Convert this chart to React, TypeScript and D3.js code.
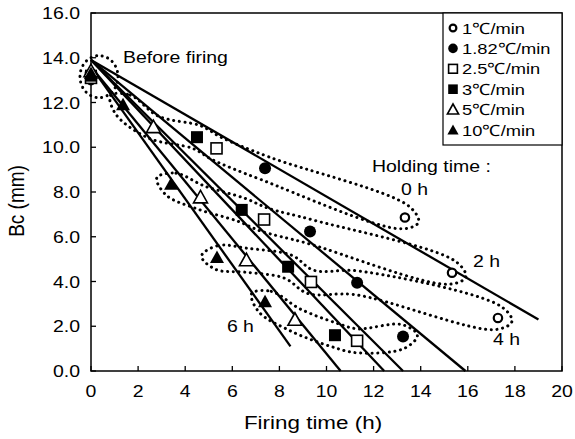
import React from 'react';
import * as d3 from 'd3';

// heating rates and their marker styles
const rateLabels = ['1℃/min', '1.82℃/min', '2.5℃/min', '3℃/min', '5℃/min', '10℃/min'];
const markerKinds = ['openCircle', 'circle', 'openSquare', 'square', 'openTriangle', 'triangle'];

// firing time (h) and Bc (mm); first point is "before firing", then holding 0, 2, 4, 6 h
const timeRate1 = [0, 13.33, 15.33, 17.28];
const bcRate1 = [13.0, 6.86, 4.39, 2.37];
const timeRate182 = [0, 7.39, 9.3, 11.3, 13.25];
const bcRate182 = [13.2, 9.06, 6.23, 3.94, 1.54];
const timeRate25 = [0, 5.33, 7.35, 9.34, 11.3];
const bcRate25 = [13.1, 9.95, 6.77, 3.98, 1.35];
const timeRate3 = [0, 4.5, 6.4, 8.37, 10.36];
const bcRate3 = [13.2, 10.45, 7.2, 4.66, 1.6];
const timeRate5 = [0, 2.65, 4.65, 6.6, 8.66];
const bcRate5 = [13.4, 10.9, 7.76, 4.95, 2.29];
const timeRate10 = [0, 1.36, 3.4, 5.35, 7.39];
const bcRate10 = [13.3, 11.9, 8.35, 5.07, 3.1];

const seriesTime = [timeRate1, timeRate182, timeRate25, timeRate3, timeRate5, timeRate10];
const seriesBc = [bcRate1, bcRate182, bcRate25, bcRate3, bcRate5, bcRate10];

// straight fitted lines
const fitStartBc = [13.9, 13.9, 13.9, 13.9, 13.6, 13.6];
const fitEndTime = [19.0, 15.9, 13.25, 12.45, 10.6, 8.47];
const fitEndBc = [2.3, 0, 0, 0, 0, 1.1];

const holdingLabels = ['0 h', '2 h', '4 h', '6 h'];
const xTicks = [0, 2, 4, 6, 8, 10, 12, 14, 16, 18, 20];
const yTicks = [0, 2, 4, 6, 8, 10, 12, 14, 16];

const FONT = '"Liberation Sans", Arial, Helvetica, sans-serif';
const STRETCH = 1.18;

const x = d3.scaleLinear().domain([0, 20]).range([91, 562]);
const y = d3.scaleLinear().domain([0, 16]).range([371, 13]);

type Pt = [number, number];

function loopOutline(pts: Pt[], r: number): Pt[] {
  const n = pts.length;
  const tan = pts.map((p, i) => {
    const a = pts[Math.max(0, i - 1)];
    const b = pts[Math.min(n - 1, i + 1)];
    const dx = b[0] - a[0], dy = b[1] - a[1];
    const l = Math.hypot(dx, dy) || 1;
    return [dx / l, dy / l];
  });
  const up = pts.map((p, i) => [p[0] + tan[i][1] * r, p[1] - tan[i][0] * r] as Pt);
  const down = pts.map((p, i) => [p[0] - tan[i][1] * r, p[1] + tan[i][0] * r] as Pt);
  const start: Pt = [pts[0][0] - tan[0][0] * r * 1.3, pts[0][1] - tan[0][1] * r * 1.3];
  const end: Pt = [pts[n - 1][0] + tan[n - 1][0] * r * 1.2, pts[n - 1][1] + tan[n - 1][1] * r * 1.2];
  return [start, ...up, end, ...down.reverse()];
}

function Marker({ kind, cx, cy, k = 1 }: { kind: string; cx: number; cy: number; k?: number }) {
  const tri = `M${cx},${cy - 7 * k}L${cx + 7 * k},${cy + 5.5 * k}L${cx - 7 * k},${cy + 5.5 * k}Z`;
  switch (kind) {
    case 'openCircle':
      return <circle cx={cx} cy={cy} r={4.2 * k} fill="#fff" stroke="#000" strokeWidth={2.2} />;
    case 'circle':
      return <circle cx={cx} cy={cy} r={6 * k} fill="#000" />;
    case 'openSquare':
      return <rect x={cx - 5.5 * k} y={cy - 5.5 * k} width={11 * k} height={11 * k} fill="#fff" stroke="#000" strokeWidth={1.6} />;
    case 'square':
      return <rect x={cx - 6 * k} y={cy - 6 * k} width={12 * k} height={12 * k} fill="#000" />;
    case 'openTriangle':
      return <path d={tri} fill="#fff" stroke="#000" strokeWidth={1.6} />;
    default:
      return <path d={tri} fill="#000" />;
  }
}

function Label({ px, py, text, size = 16.5, anchor = 'start' }: { px: number; py: number; text: string; size?: number; anchor?: string }) {
  return (
    <text transform={`translate(${px},${py}) scale(${STRETCH},1)`} fontSize={size} fontFamily={FONT} textAnchor={anchor} fill="#000">
      {text}
    </text>
  );
}

export default function App() {
  const dotted = { fill: 'none', stroke: '#000', strokeWidth: 3, strokeDasharray: '0.1 5.6', strokeLinecap: 'round' as const };
  const loopLine = d3.line<Pt>().curve(d3.curveCatmullRomClosed.alpha(0.5));

  const groups = holdingLabels.map((_, h) => {
    const pts: Pt[] = [];
    seriesTime.forEach((ts, s) => {
      if (ts[h + 1] !== undefined) pts.push([x(ts[h + 1]), y(seriesBc[s][h + 1])]);
    });
    pts.sort((a, b) => a[0] - b[0]);
    return pts;
  });

  const beforeBc = d3.mean(seriesBc, (b) => b[0]) as number;

  return (
    <svg width={575} height={439} style={{ position: 'absolute', left: 0, top: 0, background: '#fff' }}>
      {/* frame */}
      <rect x={x(0)} y={y(16)} width={x(20) - x(0)} height={y(0) - y(16)} fill="none" stroke="#000" strokeWidth={1.5} />
      {xTicks.map((t) => (
        <g key={'x' + t}>
          <line x1={x(t)} x2={x(t)} y1={y(0)} y2={y(0) - 5} stroke="#000" strokeWidth={1.3} />
          <Label px={x(t)} py={397} text={String(t)} anchor="middle" />
        </g>
      ))}
      {yTicks.map((t) => (
        <g key={'y' + t}>
          <line x1={x(0)} x2={x(0) + 5} y1={y(t)} y2={y(t)} stroke="#000" strokeWidth={1.3} />
          <Label px={80} py={y(t) + 6} text={t.toFixed(1)} anchor="end" />
        </g>
      ))}
      <text transform={`translate(313,429) scale(${STRETCH},1)`} fontSize={19} fontFamily={FONT} textAnchor="middle">
        Firing time (h)
      </text>
      <text transform={`translate(24,201) scale(${STRETCH},1) rotate(-90)`} fontSize={19} fontFamily={FONT} textAnchor="middle">
        Bc (mm)
      </text>

      {/* holding-time loops */}
      {groups.map((pts, h) => (
        <path key={'loop' + h} d={loopLine(loopOutline(pts, 12)) || ''} {...dotted} />
      ))}
      <ellipse cx={x(0) + 8} cy={y(beforeBc) + 1} rx={19} ry={21} {...dotted} />

      {/* fitted lines */}
      {fitEndTime.map((t, i) => (
        <line key={'fit' + i} x1={x(0)} y1={y(fitStartBc[i])} x2={x(t)} y2={y(fitEndBc[i])} stroke="#000" strokeWidth={2.3} />
      ))}

      {/* markers */}
      {seriesTime.map((ts, s) =>
        ts.map((t, i) => <Marker key={`m${s}-${i}`} kind={markerKinds[s]} cx={x(t)} cy={y(seriesBc[s][i])} />)
      )}

      {/* annotations */}
      <Label px={x(1.36)} py={y(13.77)} text="Before firing" />
      <Label px={x(11.93)} py={y(8.89)} text="Holding time :" />
      <Label px={x(13.16)} py={y(7.87)} text={holdingLabels[0]} />
      <Label px={x(16.22)} py={y(4.65)} text={holdingLabels[1]} />
      <Label px={x(17.07)} py={y(1.16)} text={holdingLabels[2]} />
      <Label px={x(5.77)} py={y(1.74)} text={holdingLabels[3]} />

      {/* legend */}
      <rect x={443} y={y(16)} width={x(20) - 443} height={132} fill="#fff" stroke="#000" strokeWidth={1.2} />
      {rateLabels.map((lab, i) => (
        <g key={'lg' + i}>
          <Marker kind={markerKinds[i]} cx={453} cy={28 + i * 20.4} k={0.8} />
          <Label px={462} py={33.5 + i * 20.4} text={lab} size={15.5} />
        </g>
      ))}
    </svg>
  );
}
